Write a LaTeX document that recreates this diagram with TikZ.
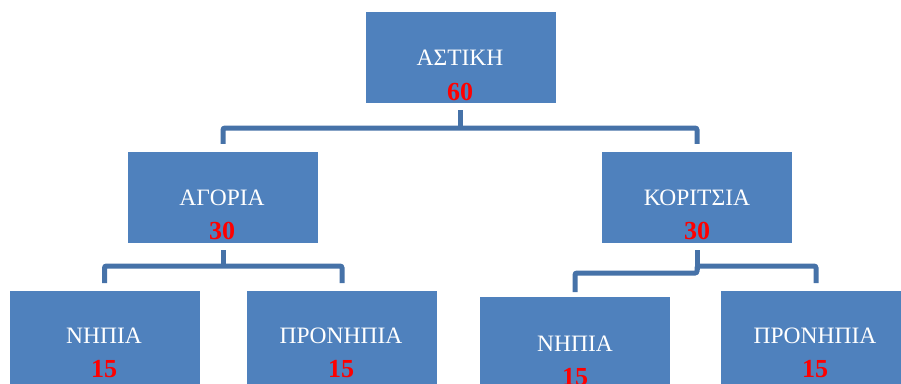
\documentclass[tikz,border=0pt]{standalone}
\usepackage{fontspec}
\setmainfont{Liberation Serif}
\definecolor{boxblue}{RGB}{79,129,189}
\definecolor{linkblue}{RGB}{70,114,168}
\definecolor{numred}{RGB}{255,0,0}
\tikzset{
  box/.style={rectangle, fill=boxblue, draw=none, minimum width=190pt, minimum height=91pt, inner sep=0pt},
  lowbox/.style={box, minimum height=110pt},
  lbl/.style={text=white, font=\fontsize{23.5}{26}\selectfont, inner sep=0pt, anchor=base},
  num/.style={text=numred, font=\fontsize{26}{28}\selectfont\bfseries, inner sep=0pt, anchor=base},
  conn/.style={draw=linkblue, line width=5pt, rounded corners=2pt}
}
\begin{document}
\begin{tikzpicture}[x=1pt,y=-1pt]
\useasboundingbox (0,0) rectangle (901,383);
\clip (0,0) rectangle (901,383);
% boxes
\node[box] (root) at (460.5,57.5) {};
\node[box] (agoria) at (223,197.5) {};
\node[box] (koritsia) at (697,197.5) {};
\node[lowbox, anchor=north] (nl) at (104.5,291) {};
\node[lowbox, anchor=north] (pl) at (342,291) {};
\node[lowbox, anchor=north] (nr) at (575,297) {};
\node[lowbox, anchor=north] (pr) at (816,291) {};
% texts
\node[lbl] (rootT) at (460,65) {ΑΣΤΙΚΗ};
\node[num] (rootN) at (460,100) {60};
\node[lbl] (agoriaT) at (222,205) {ΑΓΟΡΙΑ};
\node[num] (agoriaN) at (222,239) {30};
\node[lbl] (koritsiaT) at (697,205) {ΚΟΡΙΤΣΙΑ};
\node[num] (koritsiaN) at (697,239) {30};
\node[lbl] (nlT) at (104,343) {ΝΗΠΙΑ};
\node[num] (nlN) at (104,377) {15};
\node[lbl] (plT) at (341,343) {ΠΡΟΝΗΠΙΑ};
\node[num] (plN) at (341,377) {15};
\node[lbl] (nrT) at (575,351) {ΝΗΠΙΑ};
\node[num] (nrN) at (575,385) {15};
\node[lbl] (prT) at (815,343) {ΠΡΟΝΗΠΙΑ};
\node[num] (prN) at (815,377) {15};
% connectors
\draw[conn] ([yshift=-7pt]root.south) -- (460.5,128);
\draw[conn] ([yshift=8pt]agoria.north) -- (223,128) -- (697,128) -- ([yshift=8pt]koritsia.north);
\draw[conn] ([yshift=-7pt]agoria.south) -- (223,266);
\draw[conn] ([yshift=8pt]nl.north) -- (104.5,266) -- (342,266) -- ([yshift=8pt]pl.north);
\draw[conn] ([yshift=-7pt]koritsia.south) -- (697,269.5);
\draw[conn] ([yshift=5pt]nr.north) -- (575,273) -- (697,273) -- (697,266) -- (816,266) -- ([yshift=8pt]pr.north);
\end{tikzpicture}
\end{document}
